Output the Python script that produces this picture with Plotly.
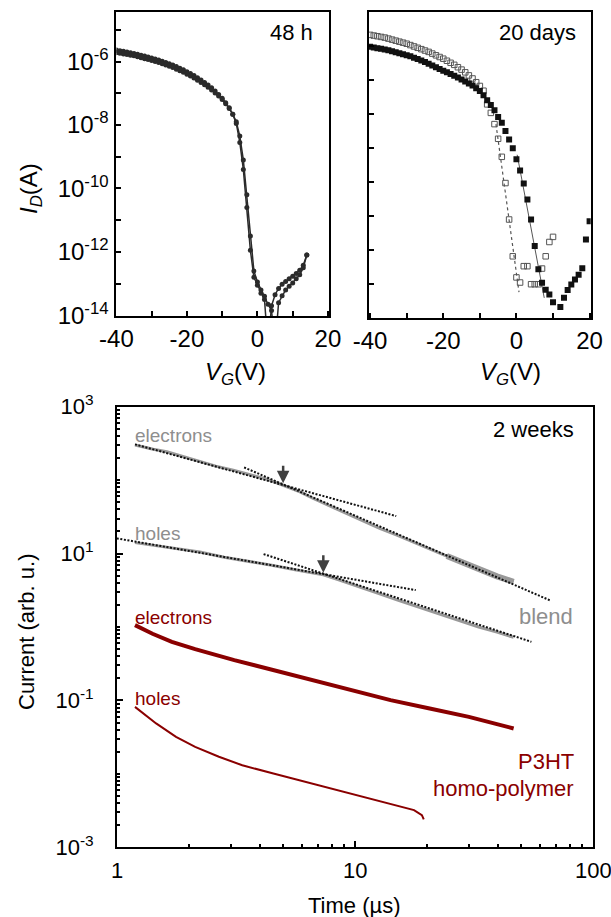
import numpy as np
import plotly.graph_objects as go

W, H = 611, 917
FONT = "Liberation Sans, Arial, sans-serif"
DARK_RED = "#8a0000"
GREY = "#8e8e8e"
INK = "#2b2b2b"

# ---------------- transfer curves after 48 h (log10 of I_D in A) ----------------
vg_48h = list(range(-40, 15))
log_id_48h_fwd = [
    -5.64, -5.66, -5.68, -5.70, -5.72, -5.75, -5.77, -5.80, -5.83, -5.86,
    -5.89, -5.92, -5.95, -5.99, -6.03, -6.07, -6.11, -6.16, -6.21, -6.26,
    -6.32, -6.38, -6.44, -6.51, -6.58, -6.66, -6.74, -6.83, -6.93, -7.04,
    -7.16, -7.30, -7.46, -7.66, -7.95, -8.55, -9.40, -10.6, -11.95, -12.8,
    -13.05, -13.3, -13.5, -15.0, -13.7, -13.35, -13.15, -13.02, -12.93, -12.85,
    -12.77, -12.68, -12.58, -12.42, -12.1,
]
log_id_48h_rev = [
    -5.72, -5.74, -5.76, -5.78, -5.80, -5.82, -5.85, -5.88, -5.91, -5.94,
    -5.97, -6.00, -6.03, -6.07, -6.11, -6.15, -6.19, -6.24, -6.29, -6.34,
    -6.40, -6.46, -6.52, -6.59, -6.66, -6.73, -6.81, -6.90, -6.99, -7.09,
    -7.20, -7.33, -7.48, -7.66, -7.90, -8.35, -9.10, -10.2, -11.5, -12.6,
    -12.95, -13.2, -13.4, -13.65, -13.85, -15.0, -13.6, -13.38, -13.2, -13.08,
    -12.98, -12.85, -12.72, -12.5, -12.1,
]

# ---------------- transfer curves after 20 days ----------------
vg_20d_filled = [v for v in range(-40, 21) if v != 11]
log_id_20d_filled = [
    -6.03, -6.05, -6.07, -6.09, -6.11, -6.13, -6.16, -6.19, -6.22, -6.25,
    -6.28, -6.31, -6.35, -6.39, -6.43, -6.48, -6.53, -6.58, -6.63, -6.68,
    -6.73, -6.78, -6.83, -6.88, -6.93, -6.99, -7.05, -7.11, -7.17, -7.25,
    -7.33, -7.45, -7.60, -7.74, -7.89, -8.09, -8.26, -8.50, -8.75, -9.01,
    -9.33, -9.66, -10.04, -10.51, -11.10, -11.88, -12.56, -12.96, -13.16, -13.30,
    -13.53, -13.67, -13.40, -13.17, -13.01, -12.86, -12.72, -12.53, -11.69, -11.15,
]
vg_20d_open = list(range(-40, 11))
log_id_20d_open = [
    -5.68, -5.70, -5.72, -5.74, -5.76, -5.79, -5.82, -5.85, -5.88, -5.91,
    -5.94, -5.98, -6.02, -6.06, -6.10, -6.14, -6.18, -6.23, -6.28, -6.33,
    -6.38, -6.44, -6.50, -6.56, -6.63, -6.70, -6.78, -6.87, -6.96, -7.07,
    -7.18, -7.32, -7.72, -7.97, -8.30, -8.73, -9.26, -10.03, -11.10, -12.18,
    -12.80, -12.95, -12.47, -12.47, -13.0, -13.0, -13.0, -12.54, -12.18, -11.76,
    -11.61,
]
fit_open_vg = [-5.6, 0.7]
fit_open_log = [-8.3, -13.23]
fit_filled_vg = [0.2, 7.6]
fit_filled_log = [-9.2, -13.4]

# ---------------- transient currents after 2 weeks ----------------
t_blend_e = [1.19, 1.42, 1.62, 1.9, 2.23, 2.6, 3.08, 3.6, 4.26, 4.99, 5.87, 6.68,
             7.8, 9.23, 10.9, 12.7, 15.0, 17.6, 20.7, 24.3, 28.5, 33.5, 39.5, 46.4]
i_blend_e = [301, 263, 244, 209, 178, 155, 137, 119, 103, 85.1, 69.2, 56.2,
             44.7, 35.3, 27.5, 22.0, 17.8, 14.5, 11.5, 9.25, 7.41, 5.96, 4.90, 4.13]
t_blend_h = [1.19, 1.5, 1.78, 2.23, 2.82, 3.5, 4.47, 5.6, 7.36, 8.6, 10, 12.7,
             15.0, 17.8, 20.7, 24.3, 28.5, 33.1, 39.5, 46.4]
i_blend_h = [14.1, 12.6, 11.5, 10.5, 8.91, 7.94, 6.92, 6.03, 5.13, 4.37, 3.72, 2.82,
             2.34, 1.95, 1.64, 1.38, 1.17, 1.0, 0.851, 0.724]
t_p3ht_e = [1.19, 1.41, 1.70, 2.13, 3.11, 4.54, 6.62, 9.68, 14.1, 20.6, 30.1, 46.4]
i_p3ht_e = [1.06, 0.81, 0.628, 0.50, 0.354, 0.259, 0.189, 0.138, 0.101, 0.0778, 0.0598, 0.0415]
t_p3ht_h = [1.19, 1.46, 1.77, 2.13, 2.68, 3.36, 4.54, 6.62, 9.68, 14.1, 17.7, 19.1, 19.45]
i_p3ht_h = [0.0818, 0.0486, 0.0319, 0.0233, 0.0171, 0.0131, 0.0101, 0.0074, 0.0054,
            0.00395, 0.00321, 0.00274, 0.0024]

# power-law fits (end points) for the blend transients
fit_e1_t, fit_e1_i = [1.19, 14.9], [307, 32.4]
fit_e2_t, fit_e2_i = [3.42, 66.5], [149, 2.28]
fit_h1_t, fit_h1_i = [0.964, 18.0], [16.4, 3.18]
fit_h2_t, fit_h2_i = [4.13, 55.1], [9.84, 0.628]
# crossover points marked with arrows
cross_t = [4.99, 7.36]
cross_i = [91, 5.47]

# time axis decades
time_ticks = [1, 10, 100]
time_tick_text = ["1", "10", "100"]


def px_x(px):
    return px / W


def px_y(py):
    return 1 - py / H


fig = go.Figure()

# 48 h panel
for logs in (log_id_48h_fwd, log_id_48h_rev):
    fig.add_trace(go.Scatter(
        x=vg_48h, y=[10 ** v for v in logs], mode="lines+markers",
        line=dict(color=INK, width=1.5),
        marker=dict(symbol="circle", size=5, color=INK),
        xaxis="x", yaxis="y", showlegend=False))

# 20 days panel
fig.add_trace(go.Scatter(
    x=fit_open_vg, y=[10 ** v for v in fit_open_log], mode="lines",
    line=dict(color="#555555", width=1.2, dash="dot"),
    xaxis="x2", yaxis="y2", showlegend=False))
fig.add_trace(go.Scatter(
    x=fit_filled_vg, y=[10 ** v for v in fit_filled_log], mode="lines",
    line=dict(color="#555555", width=1.0),
    xaxis="x2", yaxis="y2", showlegend=False))
fig.add_trace(go.Scatter(
    x=vg_20d_open, y=[10 ** v for v in log_id_20d_open], mode="markers",
    marker=dict(symbol="square-open", size=5.5, color="#555555", line=dict(width=1)),
    xaxis="x2", yaxis="y2", showlegend=False))
fig.add_trace(go.Scatter(
    x=vg_20d_filled, y=[10 ** v for v in log_id_20d_filled], mode="markers",
    marker=dict(symbol="square", size=6, color="#111111"),
    xaxis="x2", yaxis="y2", showlegend=False))

# 2 weeks panel: blend transients
fig.add_trace(go.Scatter(x=t_blend_e, y=i_blend_e, mode="lines",
                         line=dict(color="#999999", width=3),
                         xaxis="x3", yaxis="y3", showlegend=False))
tail = [k for k, t in enumerate(t_blend_e) if t >= 24]
fig.add_trace(go.Scatter(x=[t_blend_e[k] for k in tail], y=[i_blend_e[k] for k in tail],
                         mode="lines", line=dict(color="#999999", width=6),
                         xaxis="x3", yaxis="y3", showlegend=False))
fig.add_trace(go.Scatter(x=t_blend_h, y=i_blend_h, mode="lines",
                         line=dict(color="#999999", width=3),
                         xaxis="x3", yaxis="y3", showlegend=False))
for ft, fi in ((fit_e1_t, fit_e1_i), (fit_e2_t, fit_e2_i),
               (fit_h1_t, fit_h1_i), (fit_h2_t, fit_h2_i)):
    fig.add_trace(go.Scatter(x=ft, y=fi, mode="lines",
                             line=dict(color="#111111", width=2, dash="2px,1.6px"),
                             xaxis="x3", yaxis="y3", showlegend=False))

# 2 weeks panel: homo-polymer transients
fig.add_trace(go.Scatter(x=t_p3ht_e, y=i_p3ht_e, mode="lines",
                         line=dict(color=DARK_RED, width=4),
                         xaxis="x3", yaxis="y3", showlegend=False))
fig.add_trace(go.Scatter(x=t_p3ht_h, y=i_p3ht_h, mode="lines",
                         line=dict(color=DARK_RED, width=2),
                         xaxis="x3", yaxis="y3", showlegend=False))

frame = dict(showline=True, linecolor="black", linewidth=2, mirror=True,
             showgrid=False, zeroline=False, ticks="inside", automargin=False,
             tickcolor="black", tickwidth=1.5, ticklabeloverflow="allow")
top_font = dict(family=FONT, size=24, color="black")
bot_font = dict(family=FONT, size=22, color="black")


def inner_minor(vals, length):
    return dict(ticks="inside", ticklen=length, tickcolor="black", tickwidth=1.5,
                tickvals=vals, showgrid=False)


fig.update_layout(
    template="none",
    width=W, height=H, margin=dict(l=0, r=0, t=0, b=0, autoexpand=False),
    paper_bgcolor="white", plot_bgcolor="white", showlegend=False,
    font=dict(family=FONT, color="black"),
    xaxis=dict(frame, domain=[px_x(116.4), px_x(329)], range=[-40, 20.3],
               tickvals=[-40, -20, 0, 20], ticktext=["-40", "-20", "0", "20"], ticklen=5,
               tickfont=top_font, anchor="y",
               minor=inner_minor([-30, -10, 10], 5)),
    yaxis=dict(frame, domain=[px_y(316), px_y(11.7)], type="log",
               range=[-14.02, -4.43],
               tickvals=[10.0 ** -k for k in (6, 8, 10, 12, 14)],
               ticktext=["10<sup>-%d</sup>" % k for k in (6, 8, 10, 12, 14)],
               ticklen=5, tickfont=top_font, ticklabelstandoff=1, anchor="x",
               minor=inner_minor([10.0 ** -k for k in (5, 7, 9, 11, 13)], 5)),
    xaxis2=dict(frame, domain=[px_x(369), px_x(590.7)], range=[-40.3, 20.3],
                tickvals=[-40, -20, 0, 20], ticktext=["-40", "-20", "0", "20"], ticklen=5,
                tickfont=top_font, anchor="y2",
                minor=inner_minor([-30, -10, 10], 5)),
    yaxis2=dict(frame, domain=[px_y(318.3), px_y(11.7)], type="log",
                range=[-14, -5], tickvals=[], showticklabels=False, anchor="x2",
                minor=inner_minor([10.0 ** -k for k in range(6, 14)], 5)),
    xaxis3=dict(frame, domain=[px_x(117), px_x(593)], type="log", range=[0, 2],
                tickvals=time_ticks, showticklabels=False, ticklen=6, anchor="y3",
                minor=inner_minor([m * 10 ** d for d in (0, 1) for m in range(2, 10)], 3)),
    yaxis3=dict(frame, domain=[px_y(847.3), px_y(406.7)], type="log", range=[-3, 3],
                tickvals=[10.0 ** k for k in (-3, -1, 1, 3)],
                ticktext=["10<sup>-3</sup>", "10<sup>-1</sup>", "10<sup>1</sup>", "10<sup>3</sup>"],
                ticklen=6, tickfont=bot_font, ticklabelstandoff=17, anchor="x3",
                minor=inner_minor([m * 10.0 ** d for d in range(-3, 3) for m in range(1, 10)
                                   if not (m == 1 and d % 2 == 1)], 3)),
)

ann = []


def label(text, px, py, size, color="black", xanchor="center", angle=0):
    ann.append(dict(text=text, x=px_x(px), y=px_y(py), xref="paper", yref="paper",
                    showarrow=False, xanchor=xanchor, yanchor="middle",
                    textangle=angle, font=dict(family=FONT, size=size, color=color)))


# time-axis tick labels, sitting a little closer to the axis than plotly's default
for v, txt in zip(time_ticks, time_tick_text):
    ann.append(dict(text=txt, x=np.log10(v), xref="x3", y=px_y(870), yref="paper",
                    showarrow=False, xanchor="center", yanchor="middle", font=bot_font))

label("48 h", 315, 32.5, 22, xanchor="right")
label("20 days", 578, 32.5, 22, xanchor="right")
label("<i>I</i><sub><i>D</i></sub>(A)", 30, 188, 24, angle=-90)
label("<i>V</i><sub><i>G</i></sub>(V)", 235, 373, 24)
label("<i>V</i><sub><i>G</i></sub>(V)", 510, 373, 24)
label("Current (arb. u.)", 26, 632, 22, angle=-90)
label("Time (µs)", 354, 905, 22)
label("2 weeks", 576, 429, 22, xanchor="right")
label("electrons", 133, 435, 19, GREY, xanchor="left")
label("holes", 133, 533, 19, GREY, xanchor="left")
label("blend", 575, 616.5, 22, GREY, xanchor="right")
label("electrons", 133, 617, 19, DARK_RED, xanchor="left")
label("holes", 133, 698, 19, DARK_RED, xanchor="left")
label("P3HT", 576, 761, 22, DARK_RED, xanchor="right")
label("homo-polymer", 576, 788, 22, DARK_RED, xanchor="right")

for t, i in zip(cross_t, cross_i):
    ann.append(dict(x=np.log10(t), y=np.log10(i), xref="x3", yref="y3",
                    showarrow=True, ax=0, ay=-19, arrowhead=2, arrowsize=1,
                    arrowwidth=2.5, arrowcolor="#404040", text=""))

fig.update_layout(annotations=ann)
fig.write_html("out.html")
